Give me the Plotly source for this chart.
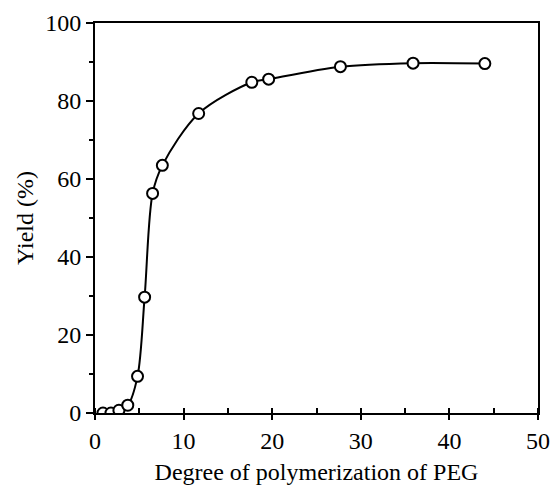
import plotly.graph_objects as go

# Degree of polymerization of PEG vs yield (%)
dp = [0.9, 1.8, 2.7, 3.7, 4.8, 5.6, 6.5, 7.6, 11.7, 17.7, 19.6, 27.7, 35.9, 44.0]
yield_pct = [0.0, 0.0, 0.7, 2.0, 9.4, 29.7, 56.3, 63.5, 76.8, 84.8, 85.6, 88.8, 89.7, 89.6]

x_ticks = [0, 10, 20, 30, 40, 50]
y_ticks = [0, 20, 40, 60, 80, 100]

font_family = "Liberation Serif, Times New Roman, serif"
fs = 24

fig = go.Figure()
fig.add_trace(go.Scatter(
    x=dp, y=yield_pct, mode="lines",
    line=dict(color="black", width=2, shape="spline", smoothing=0.9),
    hoverinfo="skip", showlegend=False,
))
fig.add_trace(go.Scatter(
    x=dp, y=yield_pct, mode="markers",
    marker=dict(symbol="circle", size=11, color="white",
                line=dict(color="black", width=2)),
    showlegend=False,
))

fig.update_layout(
    width=552, height=485,
    margin=dict(l=95, r=14, t=23, b=72),
    paper_bgcolor="white", plot_bgcolor="white",
    font=dict(family=font_family, color="black", size=fs),
)
fig.update_xaxes(
    range=[0, 50], tickvals=x_ticks, ticktext=[str(v) for v in x_ticks],
    showline=True, linecolor="black", linewidth=2, mirror=True,
    ticks="outside", ticklen=5, tickwidth=2, tickcolor="black",
    minor=dict(ticks="inside", dtick=5, ticklen=5, tickwidth=1.5, tickcolor="black"),
    showgrid=False, zeroline=False, automargin=False,
    title=dict(text="Degree of polymerization of PEG", font=dict(size=fs), standoff=14),
    tickfont=dict(size=fs),
)
fig.update_yaxes(
    range=[0, 100], tickvals=y_ticks, ticktext=[str(v) for v in y_ticks],
    showline=True, linecolor="black", linewidth=2, mirror=True,
    ticks="outside", ticklen=7, tickwidth=2, tickcolor="black",
    minor=dict(ticks="outside", dtick=10, ticklen=4, tickwidth=1.5, tickcolor="black"),
    showgrid=False, zeroline=False, automargin=False,
    title=dict(text="Yield (%)", font=dict(size=fs), standoff=5),
    tickfont=dict(size=fs),
)

fig.write_html("out.html")
